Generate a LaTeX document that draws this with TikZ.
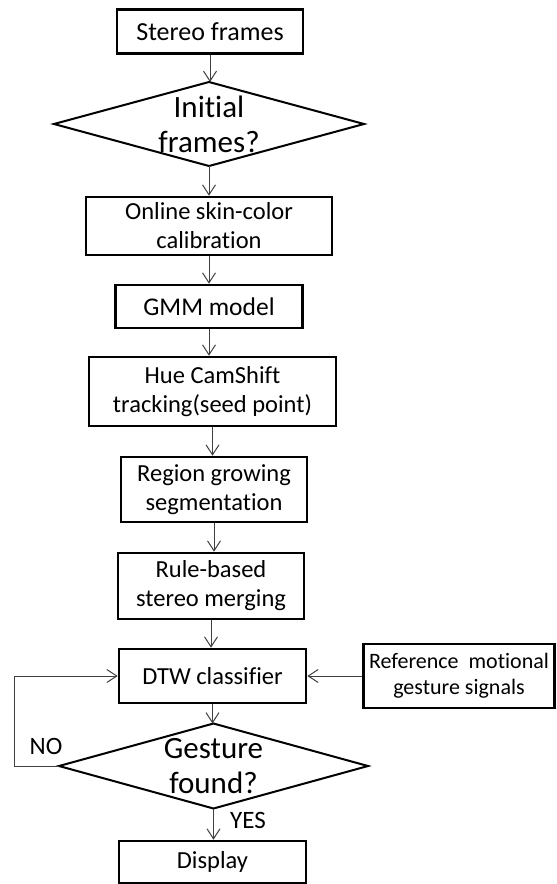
\documentclass[tikz,border=0pt]{standalone}
\usepackage{fontspec}
\setmainfont[Ligatures=NoCommon]{Carlito}
\usetikzlibrary{shapes.geometric,arrows.meta}
\begin{document}
\begin{tikzpicture}[x=1pt,y=-1pt,
  stepbox/.style={draw=black,line width=2.6pt,rectangle,inner sep=0pt,align=center,
    font=\fontsize{24.5}{29}\selectfont},
  decision/.style={draw=black,line width=2pt,diamond,inner sep=0pt,outer sep=0pt},
  dtext/.style={align=center,inner sep=0pt,font=\fontsize{31}{35}\selectfont},
  conn/.style={draw=black!75,line width=1pt,-{Straight Barb[length=10pt,width=13pt,line width=1pt]}},
  lbl/.style={font=\fontsize{25}{28}\selectfont,inner sep=0pt}]
\useasboundingbox (0,0) rectangle (557,884);
\node[stepbox,minimum width=186pt,minimum height=44pt,font=\fontsize{26}{29}\selectfont] (stereo) at (210,31.5) {Stereo frames};
\node[decision,minimum width=310pt,minimum height=84pt] (init) at (209,124) {};
\node[dtext] (initt) at (209,124) {Initial\\frames?};
\node[stepbox,minimum width=246pt,minimum height=58pt] (online) at (209,226) {Online skin-color\\calibration};
\node[stepbox,minimum width=187pt,minimum height=43pt,font=\fontsize{25.5}{29}\selectfont] (gmm) at (209,306.5) {GMM model};
\node[stepbox,minimum width=247pt,minimum height=69pt] (hue) at (212.5,391.5) {Hue CamShift\\tracking(seed point)};
\node[stepbox,minimum width=186pt,minimum height=65pt] (region) at (214,489.5) {Region growing\\segmentation};
\node[stepbox,minimum width=186pt,minimum height=66pt] (rule) at (211,586) {Rule-based\\stereo merging};
\node[stepbox,minimum width=187pt,minimum height=54pt] (dtw) at (212.5,676) {DTW classifier};
\node[stepbox,minimum width=191pt,minimum height=64pt,font=\fontsize{22}{26}\selectfont] (ref) at (459,676) {Reference\ \ motional\\gesture signals};
\node[decision,minimum width=309pt,minimum height=85pt] (gest) at (213.5,766) {};
\node[dtext] (gestt) at (213.5,766) {Gesture\\found?};
\node[stepbox,minimum width=187pt,minimum height=42pt] (disp) at (212.5,862) {Display};
\coordinate (nobot) at (14,766);
\coordinate (notop) at (14,676);
\draw[conn] (stereo.south) -- (stereo.south |- init.north);
\draw[conn] (init.south) -- (init.south |- online.north);
\draw[conn] (online.south) -- (online.south |- gmm.north);
\draw[conn] (gmm.south) -- (gmm.south |- hue.north);
\draw[conn] (hue.south) -- (hue.south |- region.north);
\draw[conn] (region.south) -- (region.south |- rule.north);
\draw[conn] (rule.south) -- (rule.south |- dtw.north);
\draw[conn] (dtw.south) -- (dtw.south |- gest.north);
\draw[conn] (gest.south) -- (gest.south |- disp.north);
\draw[conn] (ref.west) -- (dtw.east);
\draw[conn] (gest.west) -- (nobot) -- (notop) -- (dtw.west);
\node[lbl] (no) at (46,746) {NO};
\node[lbl] (yes) at (248,820) {YES};
\end{tikzpicture}
\end{document}
